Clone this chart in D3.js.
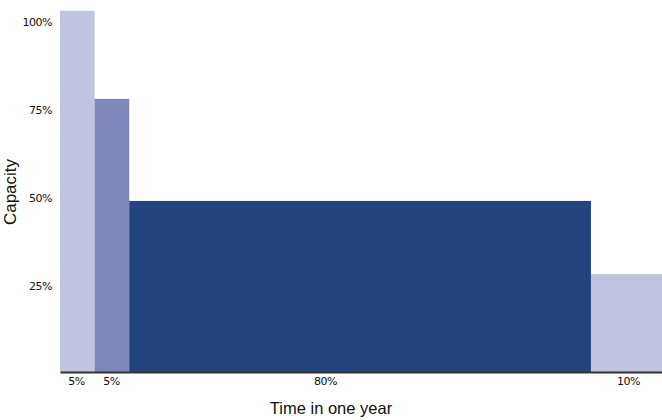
<!DOCTYPE html>
<html><head><meta charset="utf-8">
<script src="https://cdn.jsdelivr.net/npm/d3@7"></script>
<style>body{margin:0;background:#fff}svg{display:block}</style>
</head><body>
<script>
// Data
const segments = ["A", "B", "C", "D"];
const durations = [5.75, 5.75, 76.7, 11.8];      // share of the x axis
const capacity = [102.6, 77.6, 48.6, 27.8];       // capacity %
const timeLabels = ["5%", "5%", "80%", "10%"];
const timeLabelAt = [2.66, 8.47, 44.0, 94.35];    // label positions along time axis
const yTicks = [25, 50, 75, 100];
const colors = ["#c0c4df", "#7d87b9", "#22457f", "#c0c4df"];

const W = 662, H = 420;
const svg = d3.select("body").append("svg").attr("width", W).attr("height", H);

const x = d3.scaleLinear().domain([0, 100]).range([60, 662]);
const y = d3.scaleLinear().domain([0, 100]).range([372, 20]);

const starts = d3.cumsum([0, ...durations]);
const data = segments.map((s, i) => ({s, x0: starts[i], x1: starts[i] + durations[i], v: capacity[i], c: colors[i]}));

svg.append("g").selectAll("rect").data(data).join("rect")
  .attr("x", d => x(d.x0)).attr("width", d => x(d.x1) - x(d.x0))
  .attr("y", d => y(d.v)).attr("height", d => y(0) - y(d.v))
  .attr("fill", d => d.c);

// y axis (labels only)
const ya = svg.append("g").attr("transform", "translate(52,0)")
  .call(d3.axisLeft(y).tickValues(yTicks).tickFormat(d => d + "%").tickSize(0).tickPadding(0));
ya.select(".domain").remove();
ya.selectAll("text").attr("font-family", "DejaVu Sans, Verdana, sans-serif").attr("font-size", 11)
  .attr("letter-spacing", "-0.5px").attr("fill", "#111").attr("dy", "0.5em");

// x axis
const xa = svg.append("g").attr("transform", "translate(0,372)")
  .call(d3.axisBottom(x).tickValues(timeLabelAt).tickFormat((d, i) => timeLabels[i]).tickSize(0).tickPadding(5));
xa.select(".domain").attr("stroke", "#333").attr("stroke-width", 2);
xa.selectAll("text").attr("font-family", "DejaVu Sans, Verdana, sans-serif").attr("font-size", 11)
  .attr("letter-spacing", "-0.5px").attr("fill", "#111");

svg.append("text").attr("x", 331).attr("y", 414).attr("text-anchor", "middle")
  .attr("font-family", "Liberation Sans, Arial, sans-serif").attr("font-size", 16.5).attr("fill", "#111")
  .text("Time in one year");
svg.append("text").attr("transform", "translate(16,192) rotate(-90)").attr("text-anchor", "middle")
  .attr("font-family", "Liberation Sans, Arial, sans-serif").attr("font-size", 17).attr("fill", "#111")
  .text("Capacity");
</script>
</body></html>
